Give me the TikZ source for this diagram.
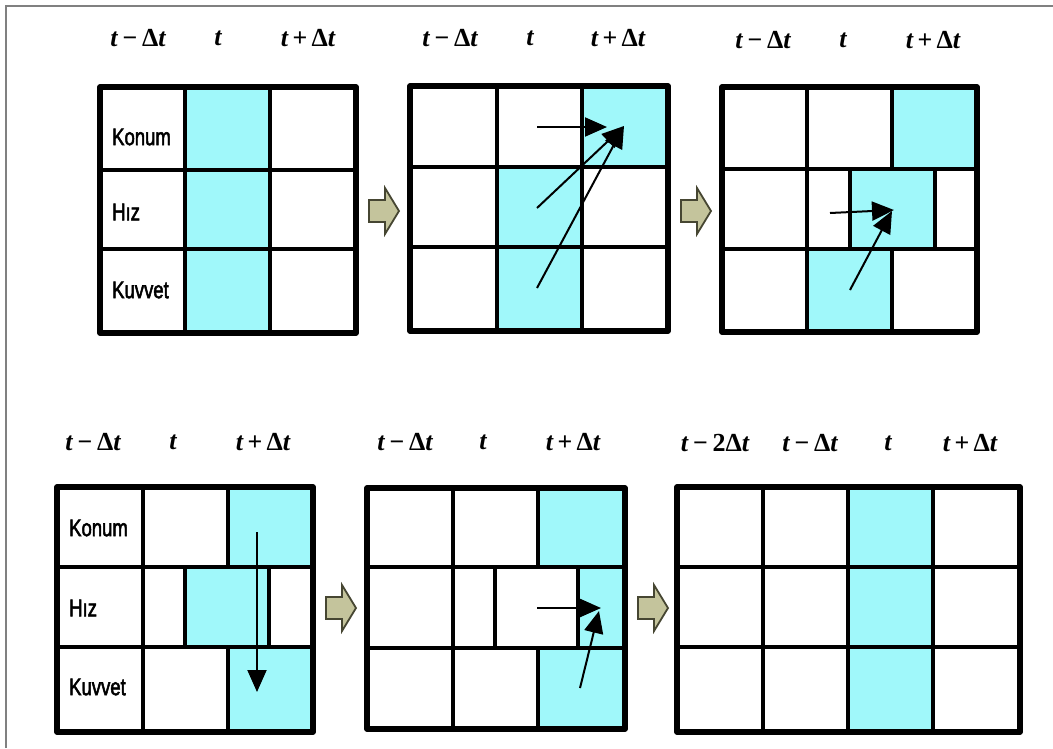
\documentclass[tikz,border=0pt]{standalone}
\usepackage{fontspec}
\setmainfont{Liberation Serif}
\setsansfont{Liberation Sans}[FakeBold=2.5]
\usetikzlibrary{arrows.meta}
\definecolor{cellblue}{RGB}{160,248,250}
\definecolor{blockfill}{RGB}{196,196,156}
\definecolor{blockline}{RGB}{70,70,50}
\definecolor{framegray}{RGB}{128,128,128}
\newcommand\tm{t\,−\,{\upshape Δ}t}
\newcommand\tp{t\,+\,{\upshape Δ}t}
\newcommand\tmm{t\,−\,{\upshape 2Δ}t}
\newcommand\rl[1]{\scalebox{1}[1.3]{#1}}
\begin{document}
\begin{tikzpicture}[x=1pt,y=-1pt,
  gridline/.style={line width=4.5pt, line cap=rect},
  outerline/.style={line width=5.5pt, line join=round},
  tlab/.style={font=\fontsize{26}{28}\selectfont\bfseries\itshape, inner sep=0pt},
  rowlab/.style={font=\sffamily\fontsize{18.5}{20}\selectfont, anchor=west, inner sep=0pt},
  arr/.style={line width=2pt, -{Triangle[length=22pt,width=19pt]}},
  blk/.style={fill=blockfill, draw=blockline, line width=1.8pt, line join=miter},
  blue/.style={fill=cellblue}
]
\useasboundingbox (0,0) rectangle (1053,748);
\fill[white] (0,0) rectangle (1053,748);
\draw[framegray, line width=1.5pt] (6,748) -- (6,6) -- (1053,6);

% ---------- Panel 1 ----------
\fill[blue] (185,87) rectangle (270,333);
\draw[gridline] (185,87)--(185,333) (270,87)--(270,333) (100,170)--(356,170) (100,249)--(356,249);
\draw[outerline] (100,87) rectangle (356,333);
\node[tlab] (p1a) at (138,38) {\tm};
\node[tlab] (p1b) at (218,38) {t};
\node[tlab] (p1c) at (308,38) {\tp};
\node[rowlab] (p1k) at (112,137) {\rl{Konum}};
\node[rowlab] (p1h) at (112,212) {\rl{Hız}};
\node[rowlab] (p1v) at (112,290) {\rl{Kuvvet}};

% ---------- Panel 2 ----------
\fill[blue] (582,86) rectangle (668,167);
\fill[blue] (497,167) rectangle (582,331);
\draw[gridline] (497,86)--(497,331) (582,86)--(582,331) (410,167)--(668,167) (410,247)--(668,247);
\draw[outerline] (410,86) rectangle (668,331);
\node[tlab] (p2a) at (450,38) {\tm};
\node[tlab] (p2b) at (530,38) {t};
\node[tlab] (p2c) at (618,38) {\tp};
\coordinate (p2s1) at (537,127);
\coordinate (p2e1) at (607,127);
\coordinate (p2s2) at (537,208);
\coordinate (p2s3) at (537,288);
\coordinate (p2e2) at (624,126);
\draw[arr] (p2s1) -- (p2e1);
\draw[arr] (p2s2) -- (p2e2);
\draw[arr] (p2s3) -- (p2e2);

% ---------- Panel 3 ----------
\fill[blue] (892,87) rectangle (977,169);
\fill[blue] (850,169) rectangle (935,249);
\fill[blue] (807,249) rectangle (892,332);
\draw[gridline] (807,87)--(807,332) (892,87)--(892,169) (892,249)--(892,332)
  (850,169)--(850,249) (935,169)--(935,249) (722,169)--(977,169) (722,249)--(977,249);
\draw[outerline] (722,87) rectangle (977,332);
\node[tlab] (p3a) at (763,40) {\tm};
\node[tlab] (p3b) at (843,40) {t};
\node[tlab] (p3c) at (933,40) {\tp};
\coordinate (p3s1) at (830,213);
\coordinate (p3e1) at (894,210);
\coordinate (p3s2) at (850,290);
\coordinate (p3e2) at (892,211);
\draw[arr] (p3s1) -- (p3e1);
\draw[arr] (p3s2) -- (p3e2);

% ---------- Panel 4 ----------
\fill[blue] (228,487) rectangle (313,567);
\fill[blue] (185,567) rectangle (269,647);
\fill[blue] (228,647) rectangle (313,732);
\draw[gridline] (143,487)--(143,732) (228,487)--(228,567) (228,647)--(228,732)
  (185,567)--(185,647) (269,567)--(269,647) (57,567)--(313,567) (57,647)--(313,647);
\draw[outerline] (57,487) rectangle (313,732);
\node[tlab] (p4a) at (93,442) {\tm};
\node[tlab] (p4b) at (173,442) {t};
\node[tlab] (p4c) at (263,442) {\tp};
\node[rowlab] (p4k) at (69,528) {\rl{Konum}};
\node[rowlab] (p4h) at (69,608) {\rl{Hız}};
\node[rowlab] (p4v) at (69,687) {\rl{Kuvvet}};
\coordinate (p4s) at (257,532);
\coordinate (p4e) at (257,692);
\draw[arr] (p4s) -- (p4e);

% ---------- Panel 5 ----------
\fill[blue] (538,488) rectangle (625,567);
\fill[blue] (578,567) rectangle (625,648);
\fill[blue] (538,648) rectangle (625,729);
\draw[gridline] (453,488)--(453,729) (538,488)--(538,567) (538,648)--(538,729)
  (495,567)--(495,648) (578,567)--(578,648) (367,567)--(625,567) (367,648)--(625,648);
\draw[outerline] (367,488) rectangle (625,729);
\node[tlab] (p5a) at (405,442) {\tm};
\node[tlab] (p5b) at (483,442) {t};
\node[tlab] (p5c) at (573,442) {\tp};
\coordinate (p5s1) at (537,608);
\coordinate (p5e1) at (601,608);
\coordinate (p5s2) at (580,688);
\coordinate (p5e2) at (599,611);
\draw[arr] (p5s1) -- (p5e1);
\draw[arr] (p5s2) -- (p5e2);

% ---------- Panel 6 ----------
\fill[blue] (848,487) rectangle (933,732);
\draw[gridline] (763,487)--(763,732) (848,487)--(848,732) (933,487)--(933,732)
  (677,567)--(1020,567) (677,647)--(1020,647);
\draw[outerline] (677,487) rectangle (1020,732);
\node[tlab] (p6a) at (715,443) {\tmm};
\node[tlab] (p6b) at (810,443) {\tm};
\node[tlab] (p6c) at (888,443) {t};
\node[tlab] (p6d) at (970,443) {\tp};

% ---------- Block arrows ----------
\foreach \x/\y in {369/211, 681/211, 326/608, 638/608}{
  \draw[blk] (\x,\y-11) -- (\x+16,\y-11) -- (\x+16,\y-23) -- (\x+30,\y) -- (\x+16,\y+23) -- (\x+16,\y+11) -- (\x,\y+11) -- cycle;
}
\end{tikzpicture}
\end{document}
